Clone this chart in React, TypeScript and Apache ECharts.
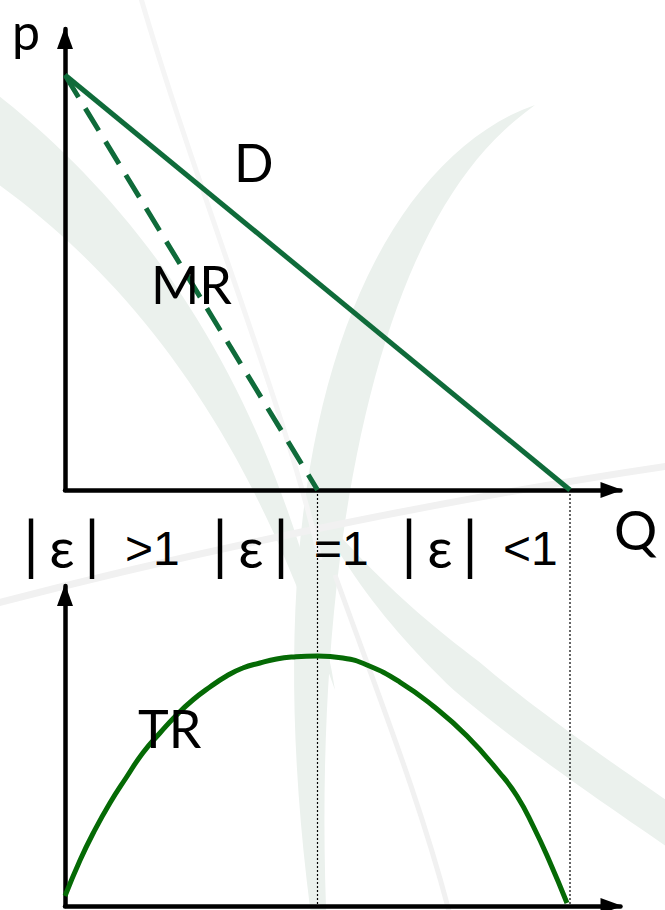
import React, { useEffect, useRef } from "react";
import * as echarts from "echarts";

// ---- data ----
const demandQ = [0, 10];
const demandP = [9, 0];
const mrQ = [0, 5];
const mrP = [9, 0];
const trQ = [0, 0.3, 0.56, 0.89, 1.22, 1.54, 1.88, 2.21, 2.53, 2.87, 3.2, 3.52, 3.86, 4.19, 4.51, 5.0, 5.5, 5.98, 6.63, 7.29, 7.96, 8.61, 8.95, 9.27, 9.6, 9.94];
const trValues = [1.0, 4.6, 7.3, 10.3, 12.9, 15.3, 17.3, 19.1, 20.6, 21.9, 23.0, 23.8, 24.3, 24.7, 24.9, 25.0, 24.8, 24.1, 22.4, 20.0, 17.0, 13.3, 11.0, 8.0, 4.4, 0.3];
const guideQ = [5, 10];
const elasticityTexts = [">1", "=1", "<1"];
const curveLabels = ["D", "MR", "TR"];
const axisNames = ["p", "Q"];

const FONT = "Lato, 'Open Sans', sans-serif";
const ROW_FONT = "'Liberation Sans', Arial, sans-serif";
const D_COLOR = "#0f6b3a";
const TR_COLOR = "#056a05";
const WM = "#ebf1ed";
const WM2 = "#f1f1f1";

function band(p: number[][], w: (t: number) => number, n = 48) {
  const pt = (t: number) => {
    const a = (1 - t) ** 3, b = 3 * (1 - t) ** 2 * t, c = 3 * (1 - t) * t * t, d = t ** 3;
    return [
      a * p[0][0] + b * p[1][0] + c * p[2][0] + d * p[3][0],
      a * p[0][1] + b * p[1][1] + c * p[2][1] + d * p[3][1],
    ];
  };
  const left: number[][] = [];
  const right: number[][] = [];
  for (let i = 0; i <= n; i++) {
    const t = i / n;
    const q0 = pt(Math.max(0, t - 0.01));
    const q1 = pt(Math.min(1, t + 0.01));
    const dx = q1[0] - q0[0], dy = q1[1] - q0[1];
    const len = Math.hypot(dx, dy) || 1;
    const nx = -dy / len, ny = dx / len;
    const c = pt(t);
    const hw = w(t) / 2;
    left.push([c[0] + nx * hw, c[1] + ny * hw]);
    right.push([c[0] - nx * hw, c[1] - ny * hw]);
  }
  return left.concat(right.reverse());
}

export default function App() {
  const ref = useRef<HTMLDivElement>(null);
  useEffect(() => {
    document.body.style.margin = "0";
    const chart = echarts.init(ref.current!, null, { renderer: "svg" });
    const axisLine = {
      show: true,
      symbol: ["none", "triangle"],
      symbolSize: [16, 22],
      symbolOffset: [0, -9],
      lineStyle: { color: "#000", width: 4.5 },
    };
    const hidden = {
      axisTick: { show: false },
      axisLabel: { show: false },
      splitLine: { show: false },
    };
    chart.setOption({
      animation: false,
      backgroundColor: "#fff",
      grid: [
        { left: 65, top: 28.9, width: 555.5, height: 461.1 },
        { left: 65, top: 586, width: 555.5, height: 320 },
      ],
      xAxis: [
        { type: "value", gridIndex: 0, min: 0, max: 11, axisLine, ...hidden },
        { type: "value", gridIndex: 1, min: 0, max: 11, axisLine, ...hidden },
      ],
      yAxis: [
        { type: "value", gridIndex: 0, min: 0, max: 10, axisLine, ...hidden },
        { type: "value", gridIndex: 1, min: 0, max: 32, axisLine, ...hidden },
      ],
      series: [
        {
          name: "D",
          type: "line",
          xAxisIndex: 0,
          yAxisIndex: 0,
          data: demandQ.map((q, i) => [q, demandP[i]]),
          symbol: "none",
          lineStyle: { color: D_COLOR, width: 5 },
          z: 3,
        },
        {
          name: "MR",
          type: "line",
          xAxisIndex: 0,
          yAxisIndex: 0,
          data: mrQ.map((q, i) => [q, mrP[i]]),
          symbol: "none",
          lineStyle: { color: D_COLOR, width: 5, type: [26, 13] },
          z: 3,
        },
        {
          name: "TR",
          type: "line",
          xAxisIndex: 1,
          yAxisIndex: 1,
          data: trQ.map((q, i) => [q, trValues[i]]),
          symbol: "none",
          smooth: 0.5,
          lineStyle: { color: TR_COLOR, width: 5 },
          z: 3,
        },
      ],
    });

    const xs = guideQ.map((q) => (chart.convertToPixel({ gridIndex: 0 }, [q, 0]) as number[])[0]);
    const yTop = (chart.convertToPixel({ gridIndex: 0 }, [0, 0]) as number[])[1];
    const yBot = (chart.convertToPixel({ gridIndex: 1 }, [0, 0]) as number[])[1];

    const watermark: any[] = [
      {
        type: "polygon",
        z: -10,
        shape: { points: band([[-60, 100], [110, 210], [255, 380], [335, 690]], (t) => 78 * Math.pow(1 - t, 0.8)) },
        style: { fill: WM },
      },
      {
        type: "polygon",
        z: -10,
        shape: { points: band([[535, 105], [350, 200], [265, 560], [335, 1060]], (t) => 44 * Math.pow(Math.sin(Math.PI * t), 0.9)) },
        style: { fill: WM },
      },
      {
        type: "polygon",
        z: -10,
        shape: { points: band([[320, 515], [410, 650], [530, 730], [720, 860]], (t) => 38 * Math.min(1, Math.pow(t * 2.2, 0.7))) },
        style: { fill: WM },
      },
      {
        type: "bezierCurve",
        z: -10,
        shape: { x1: -10, y1: 605, x2: 675, y2: 465, cpx1: 200, cpy1: 550, cpx2: 450, cpy2: 498 },
        style: { stroke: WM2, lineWidth: 7, fill: "none" },
      },
      {
        type: "bezierCurve",
        z: -10,
        shape: { x1: 140, y1: -5, x2: 320, y2: 560, cpx1: 200, cpy1: 200, cpx2: 290, cpy2: 420 },
        style: { stroke: "#f5f5f5", lineWidth: 5, fill: "none" },
      },
      {
        type: "bezierCurve",
        z: -10,
        shape: { x1: 335, y1: 575, x2: 450, y2: 915, cpx1: 380, cpy1: 700, cpx2: 420, cpy2: 800 },
        style: { stroke: WM2, lineWidth: 5, fill: "none" },
      },
    ];

    const txt = (text: string, x: number, y: number, size: number, align = "left", family = FONT) => ({
      type: "text",
      z: 20,
      x,
      y,
      style: {
        text,
        fill: "#000",
        font: `${size}px ${family}`,
        lineHeight: size,
        textAlign: align,
        textVerticalAlign: "middle",
      },
    });

    const groupX = [31, 220, 409];
    const rowTexts: any[] = [];
    groupX.forEach((gx, i) => {
      rowTexts.push(txt("|", gx, 543, 64, "center"));
      rowTexts.push(txt("ε", gx + 31, 546, 56, "center"));
      rowTexts.push(txt("|", gx + 61, 543, 64, "center"));
      rowTexts.push(txt(elasticityTexts[i], gx + 94, 548, 48, "left", ROW_FONT));
    });

    const labels: any[] = [
      txt(axisNames[0], 12, 31, 50),
      txt(axisNames[1], 614, 529, 54),
      txt(curveLabels[0], 234, 162, 52),
      txt(curveLabels[1], 151, 284, 52),
      txt(curveLabels[2], 138, 728, 52),
    ];

    const guides = xs.map((x) => ({
      type: "line",
      z: 1,
      shape: { x1: x, y1: yTop, x2: x, y2: yBot },
      style: { stroke: "#000", lineWidth: 1.2, lineDash: [2, 2] },
    }));

    chart.setOption({ graphic: [...watermark, ...guides, ...rowTexts, ...labels] });

    return () => chart.dispose();
  }, []);
  return <div ref={ref} style={{ width: 665, height: 910 }} />;
}
